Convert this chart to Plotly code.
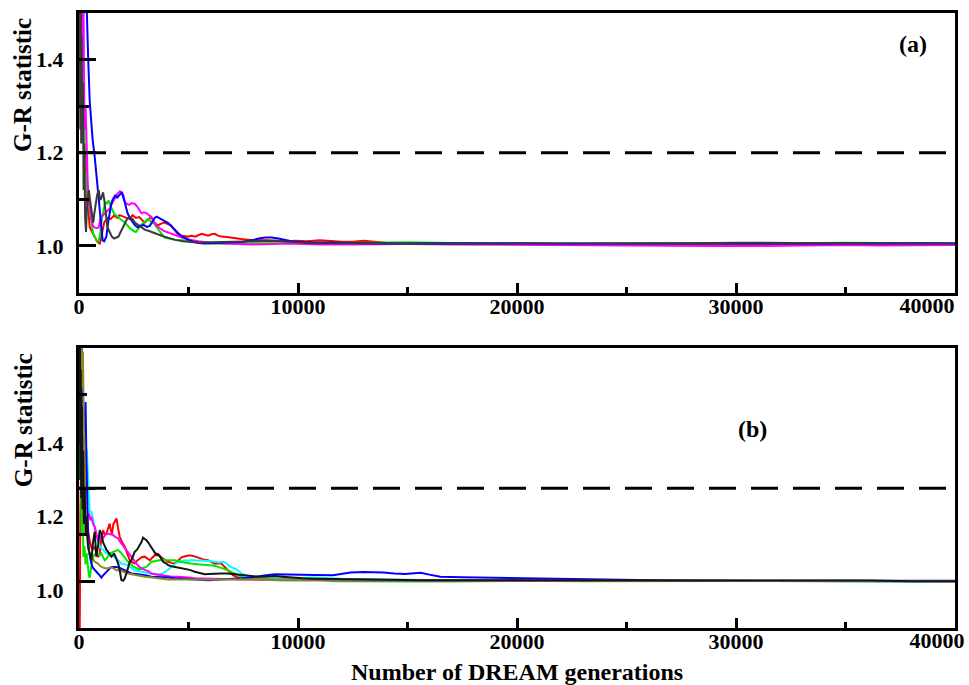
import plotly.graph_objects as go

# ---------------------------------------------------------------
# Gelman-Rubin convergence statistic vs. DREAM generation
# Each series: list of (generation, G-R value) pairs
# ---------------------------------------------------------------

# Panel (a)
a_red = [(0, 1.55), (30, 1.8), (60, 1.45), (100, 1.6), (140, 1.3), (170, 1.25), (210, 1.35), (250, 1.17),
         (300, 1.2), (350, 1.10), (420, 1.08), (490, 1.04), (600, 1.03), (700, 1.02), (820, 1.01), (950, 1.004),
         (1050, 1.03), (1150, 1.05), (1300, 1.06), (1450, 1.058), (1600, 1.065), (1750, 1.06), (1850, 1.066),
         (2000, 1.063), (2150, 1.06), (2300, 1.058), (2450, 1.066), (2600, 1.06), (2750, 1.062), (2900, 1.055),
         (3000, 1.05), (3150, 1.056), (3300, 1.062), (3450, 1.05), (3600, 1.044), (3750, 1.048), (3900, 1.05),
         (4050, 1.047), (4200, 1.044), (4350, 1.035), (4500, 1.026), (4700, 1.022), (4950, 1.02), (5150, 1.022),
         (5300, 1.02), (5450, 1.023), (5600, 1.026), (5750, 1.024), (5900, 1.022), (6050, 1.025), (6200, 1.026),
         (6350, 1.022), (6500, 1.02), (6750, 1.019), (7000, 1.018), (7400, 1.015), (7800, 1.013), (8200, 1.013),
         (8600, 1.012), (9000, 1.011), (9500, 1.01), (9900, 1.011), (10400, 1.01), (11000, 1.012), (11500, 1.01),
         (12000, 1.009), (12500, 1.009), (13000, 1.011), (13500, 1.009), (14000, 1.007), (15000, 1.006),
         (16500, 1.005), (18000, 1.005), (20000, 1.004), (22500, 1.003), (25000, 1.002), (27500, 1.002),
         (30000, 1.003), (32500, 1.003), (35000, 1.003), (37500, 1.004), (40000, 1.003)]

a_green = [(0, 1.7), (30, 1.45), (60, 1.9), (100, 1.35), (140, 1.5), (180, 1.22), (220, 1.3), (260, 1.15),
           (300, 1.12), (350, 1.16), (400, 1.1), (450, 1.09), (520, 1.06), (600, 1.04), (660, 1.025), (720, 1.018),
           (800, 1.012), (900, 1.01), (980, 1.03), (1050, 1.06), (1120, 1.08), (1200, 1.095), (1280, 1.09),
           (1350, 1.098), (1450, 1.085), (1600, 1.07), (1700, 1.065), (1850, 1.058), (1950, 1.055), (2100, 1.05),
           (2250, 1.042), (2350, 1.037), (2500, 1.032), (2600, 1.03), (2700, 1.036), (2800, 1.044), (2950, 1.05),
           (3050, 1.055), (3150, 1.058), (3300, 1.052), (3450, 1.047), (3550, 1.04), (3650, 1.033), (3800, 1.024),
           (3900, 1.018), (4100, 1.016), (4400, 1.013), (4700, 1.012), (5100, 1.01), (5600, 1.008), (6200, 1.005),
           (6800, 1.006), (7400, 1.005), (8200, 1.006), (9000, 1.006), (10000, 1.007), (11000, 1.006),
           (12000, 1.006), (13500, 1.007), (15000, 1.008), (16000, 1.007), (17500, 1.006), (20000, 1.005),
           (23000, 1.004), (26000, 1.005), (30000, 1.005), (33000, 1.006), (35000, 1.007), (37000, 1.006),
           (40000, 1.005)]

a_blue = [(0, 2.1), (60, 1.9), (120, 2.0), (180, 1.75), (240, 1.85), (300, 1.6), (350, 1.5), (420, 1.40),
          (490, 1.31), (560, 1.26), (620, 1.23), (720, 1.19), (800, 1.15), (850, 1.12), (900, 1.09), (950, 1.07),
          (1000, 1.04), (1080, 1.012), (1150, 1.01), (1250, 1.02), (1330, 1.05), (1400, 1.07), (1470, 1.09),
          (1540, 1.10), (1650, 1.108), (1750, 1.104), (1850, 1.11), (1950, 1.115), (2050, 1.1), (2150, 1.08),
          (2220, 1.07), (2350, 1.058), (2450, 1.05), (2550, 1.045), (2680, 1.04), (2800, 1.043), (2950, 1.045),
          (3100, 1.041), (3230, 1.043), (3350, 1.052), (3450, 1.06), (3550, 1.063), (3650, 1.06), (3800, 1.057),
          (3950, 1.052), (4050, 1.05), (4200, 1.043), (4300, 1.038), (4400, 1.032), (4510, 1.027), (4650, 1.022),
          (4800, 1.018), (4950, 1.014), (5150, 1.01), (5400, 1.007), (5650, 1.005), (5900, 1.005), (6300, 1.006),
          (6700, 1.007), (7100, 1.007), (7500, 1.009), (7900, 1.012), (8200, 1.016), (8500, 1.018), (8800, 1.018),
          (9100, 1.016), (9400, 1.013), (9700, 1.01), (10300, 1.008), (11000, 1.007), (12000, 1.007),
          (13000, 1.006), (14000, 1.005), (15000, 1.005), (16000, 1.006), (17000, 1.006), (18000, 1.007),
          (19000, 1.007), (20000, 1.006), (22000, 1.005), (24000, 1.005), (26000, 1.005), (28000, 1.004),
          (30000, 1.004), (32000, 1.005), (34000, 1.005), (36000, 1.006), (38000, 1.006), (40000, 1.006)]

a_magenta = [(0, 1.8), (40, 1.6), (80, 1.9), (120, 1.45), (150, 1.4), (200, 1.55), (250, 1.25), (300, 1.3),
             (350, 1.18), (400, 1.133), (470, 1.09), (550, 1.06), (620, 1.045), (700, 1.04), (800, 1.038),
             (900, 1.04), (1000, 1.062), (1100, 1.066), (1200, 1.07), (1300, 1.074), (1400, 1.08), (1500, 1.09),
             (1630, 1.10), (1750, 1.112), (1860, 1.117), (1950, 1.116), (2020, 1.11), (2100, 1.094), (2200, 1.09),
             (2300, 1.088), (2400, 1.092), (2550, 1.09), (2650, 1.085), (2750, 1.078), (2850, 1.07), (2950, 1.072),
             (3100, 1.07), (3200, 1.066), (3300, 1.062), (3420, 1.052), (3530, 1.044), (3700, 1.038), (3850, 1.033),
             (4050, 1.029), (4220, 1.026), (4450, 1.022), (4700, 1.018), (5000, 1.014), (5450, 1.01), (6000, 1.007),
             (6650, 1.005), (7300, 1.004), (7900, 1.003), (8700, 1.004), (9600, 1.005), (10300, 1.004),
             (11000, 1.003), (12500, 1.003), (14000, 1.004), (15000, 1.004), (17000, 1.003), (20000, 1.002),
             (22500, 1.002), (25000, 1.001), (27000, 1.001), (29000, 1.0), (31000, 1.0), (33000, 1.001),
             (35000, 1.002), (36500, 1.001), (38000, 1.002), (40000, 1.002)]

a_gray = [(0, 1.95), (20, 1.30), (40, 1.7), (60, 1.25), (80, 1.55), (100, 1.22), (120, 1.45), (150, 1.25),
          (180, 1.35), (210, 1.12), (240, 1.22), (280, 1.06), (320, 1.03), (360, 1.08), (400, 1.10), (450, 1.12),
          (500, 1.10), (560, 1.08), (650, 1.05), (700, 1.07), (760, 1.09), (830, 1.11), (900, 1.12), (960, 1.10),
          (1000, 1.10), (1050, 1.11), (1100, 1.115), (1150, 1.10), (1200, 1.08), (1250, 1.06), (1300, 1.04),
          (1400, 1.03), (1500, 1.02), (1600, 1.016), (1700, 1.018), (1800, 1.02), (1900, 1.03), (2000, 1.04),
          (2100, 1.05), (2200, 1.058), (2300, 1.062), (2450, 1.058), (2550, 1.05), (2700, 1.045), (2850, 1.04),
          (3000, 1.035), (3200, 1.032), (3400, 1.028), (3650, 1.024), (3900, 1.02), (4150, 1.016), (4400, 1.013),
          (4750, 1.01), (5100, 1.008), (5500, 1.007), (6000, 1.008), (6700, 1.009), (7400, 1.01), (8200, 1.01),
          (9000, 1.011), (9900, 1.008), (10800, 1.006), (12000, 1.006), (13000, 1.005), (14500, 1.005),
          (16000, 1.004), (18000, 1.005), (20000, 1.005), (22000, 1.005), (24000, 1.005), (26000, 1.006),
          (28000, 1.006), (30000, 1.007), (32000, 1.007), (34000, 1.006), (36000, 1.005), (38000, 1.005),
          (40000, 1.005)]

# Panel (b)
b_red = [(0, 0.80), (30, 0.85), (60, 1.2), (100, 1.45), (150, 1.55), (200, 1.50), (250, 1.40), (300, 1.28),
         (350, 1.22), (420, 1.16), (500, 1.13), (600, 1.11), (717, 1.118), (800, 1.10), (870, 1.09), (945, 1.10),
         (1020, 1.14), (1100, 1.163), (1180, 1.15), (1250, 1.154), (1330, 1.17), (1400, 1.181), (1460, 1.16),
         (1510, 1.154), (1570, 1.18), (1630, 1.186), (1710, 1.195), (1780, 1.17), (1860, 1.145), (1970, 1.13),
         (2090, 1.118), (2200, 1.10), (2320, 1.081), (2440, 1.075), (2545, 1.072), (2650, 1.08), (2770, 1.086),
         (2880, 1.09), (3000, 1.091), (3120, 1.085), (3230, 1.081), (3380, 1.09), (3530, 1.099), (3650, 1.093),
         (3760, 1.089), (3900, 1.082), (4070, 1.077), (4220, 1.074), (4370, 1.072), (4520, 1.08), (4680, 1.089),
         (4850, 1.092), (5060, 1.095), (5200, 1.093), (5360, 1.091), (5520, 1.087), (5670, 1.083), (5890, 1.081),
         (6050, 1.076), (6200, 1.072), (6350, 1.073), (6500, 1.072), (6620, 1.065), (6730, 1.059), (6880, 1.05),
         (7040, 1.04), (7230, 1.035), (7420, 1.031), (7800, 1.03), (8180, 1.029), (8900, 1.03), (9700, 1.031),
         (10770, 1.031), (12000, 1.029), (13000, 1.028), (14000, 1.028), (15000, 1.027), (16500, 1.027),
         (18000, 1.026), (20000, 1.026), (23000, 1.025), (26000, 1.025), (30000, 1.025), (34000, 1.025),
         (37000, 1.024), (40000, 1.024)]

b_cyan = [(0, 1.7), (60, 1.5), (120, 1.6), (200, 1.45), (280, 1.40), (365, 1.376), (420, 1.3), (490, 1.213),
          (565, 1.213), (640, 1.19), (717, 1.172), (800, 1.15), (869, 1.136), (950, 1.12), (1022, 1.113),
          (1100, 1.11), (1250, 1.10), (1400, 1.098), (1478, 1.095), (1600, 1.09), (1707, 1.086), (1830, 1.079),
          (1935, 1.072), (2100, 1.07), (2240, 1.068), (2400, 1.06), (2544, 1.054), (2700, 1.052), (2849, 1.05),
          (3000, 1.048), (3154, 1.045), (3400, 1.043), (3600, 1.041), (3800, 1.045), (4000, 1.052), (4219, 1.063),
          (4371, 1.07), (4524, 1.077), (4676, 1.079), (4828, 1.081), (5000, 1.08), (5133, 1.082), (5300, 1.081),
          (5590, 1.081), (5900, 1.079), (6199, 1.077), (6400, 1.075), (6579, 1.077), (6700, 1.074), (6808, 1.068),
          (6950, 1.062), (7112, 1.059), (7300, 1.052), (7417, 1.045), (7600, 1.04), (7874, 1.036), (8300, 1.034),
          (8939, 1.032), (9700, 1.033), (10766, 1.034), (12000, 1.031), (13500, 1.029), (15000, 1.028),
          (17000, 1.027), (20000, 1.026), (24000, 1.026), (28000, 1.025), (32000, 1.025), (36000, 1.023),
          (38000, 1.022), (40000, 1.024)]

b_green = [(0, 1.6), (40, 1.3), (80, 1.45), (120, 1.15), (160, 1.25), (200, 1.09), (250, 1.12), (300, 1.07),
           (350, 1.10), (413, 1.05), (450, 1.04), (489, 1.033), (540, 1.05), (600, 1.08), (680, 1.095), (760, 1.10),
           (869, 1.098), (960, 1.095), (1022, 1.1), (1100, 1.088), (1174, 1.081), (1250, 1.085), (1326, 1.091),
           (1420, 1.1), (1555, 1.104), (1700, 1.106), (1783, 1.109), (1900, 1.103), (2011, 1.095), (2164, 1.083),
           (2240, 1.077), (2392, 1.07), (2468, 1.064), (2620, 1.06), (2773, 1.056), (2900, 1.06), (3077, 1.063),
           (3200, 1.07), (3306, 1.077), (3534, 1.079), (3800, 1.083), (4000, 1.082), (4371, 1.081), (4600, 1.077),
           (4828, 1.074), (5100, 1.072), (5285, 1.071), (5600, 1.069), (5894, 1.068), (6199, 1.066), (6351, 1.063),
           (6600, 1.059), (6808, 1.054), (7000, 1.048), (7265, 1.041), (7500, 1.035), (7721, 1.032), (8300, 1.029),
           (8939, 1.027), (9700, 1.026), (10766, 1.027), (11700, 1.024), (13000, 1.023), (15000, 1.023),
           (17000, 1.023), (18000, 1.024), (20000, 1.025), (23000, 1.024), (27000, 1.025), (31000, 1.024),
           (35000, 1.025), (40000, 1.024)]

b_magenta = [(0, 1.9), (40, 1.5), (80, 1.75), (120, 1.35), (160, 1.45), (200, 1.3), (250, 1.24), (300, 1.27),
             (350, 1.22), (400, 1.20), (460, 1.209), (520, 1.19), (565, 1.2), (640, 1.18), (717, 1.172), (800, 1.15),
             (869, 1.136), (950, 1.14), (1030, 1.15), (1098, 1.141), (1200, 1.15), (1326, 1.154), (1430, 1.152),
             (1555, 1.15), (1650, 1.145), (1783, 1.141), (1860, 1.133), (1935, 1.127), (2011, 1.12), (2164, 1.109),
             (2280, 1.1), (2392, 1.091), (2500, 1.082), (2620, 1.072), (2700, 1.066), (2849, 1.059), (2950, 1.057),
             (3077, 1.054), (3200, 1.05), (3306, 1.045), (3500, 1.043), (3763, 1.041), (4000, 1.038), (4219, 1.036),
             (4500, 1.036), (4828, 1.036), (5000, 1.034), (5285, 1.032), (5700, 1.031), (6199, 1.03), (6800, 1.03),
             (7417, 1.029), (8200, 1.029), (8939, 1.029), (9800, 1.028), (10800, 1.027), (12000, 1.027),
             (14000, 1.026), (16000, 1.026), (19000, 1.025), (22000, 1.025), (26000, 1.025), (30000, 1.025),
             (35000, 1.025), (40000, 1.024)]

b_blue = [(0, 1.8), (50, 1.6), (100, 1.9), (150, 1.5), (200, 1.4), (250, 1.45), (300, 1.512), (340, 1.35),
          (380, 1.2), (413, 1.15), (460, 1.104), (520, 1.08), (565, 1.072), (640, 1.06), (717, 1.054), (800, 1.048),
          (869, 1.045), (950, 1.04), (1022, 1.034), (1100, 1.04), (1174, 1.045), (1250, 1.05), (1326, 1.054),
          (1400, 1.058), (1478, 1.063), (1631, 1.063), (1783, 1.062), (1935, 1.058), (2088, 1.054), (2240, 1.05),
          (2392, 1.045), (2620, 1.044), (2849, 1.043), (3077, 1.04), (3306, 1.036), (3534, 1.036), (3763, 1.036),
          (4067, 1.034), (4371, 1.032), (4800, 1.03), (5133, 1.029), (5500, 1.028), (5894, 1.027), (6300, 1.028),
          (6655, 1.029), (7036, 1.03), (7417, 1.032), (7800, 1.034), (8178, 1.036), (8560, 1.04), (8939, 1.043),
          (9300, 1.043), (9700, 1.043), (10100, 1.043), (10766, 1.041), (11600, 1.04), (12000, 1.044),
          (12400, 1.048), (13000, 1.049), (13500, 1.049), (13900, 1.048), (14400, 1.045), (14900, 1.044),
          (15300, 1.046), (15600, 1.047), (16000, 1.042), (16500, 1.036), (17500, 1.035), (18500, 1.034),
          (19200, 1.033), (20300, 1.032), (21300, 1.031), (22500, 1.029), (24000, 1.027), (27000, 1.026),
          (30000, 1.025), (34000, 1.025), (37000, 1.025), (40000, 1.025)]

b_olive = [(0, 1.75), (30, 1.9), (60, 1.7), (100, 1.8), (140, 1.55), (180, 1.65), (220, 1.45), (260, 1.30),
           (300, 1.22), (350, 1.16), (413, 1.118), (489, 1.095), (565, 1.091), (640, 1.085), (717, 1.077),
           (800, 1.074), (869, 1.072), (950, 1.066), (1022, 1.063), (1100, 1.061), (1250, 1.059), (1400, 1.06),
           (1478, 1.062), (1600, 1.058), (1707, 1.054), (1859, 1.054), (1935, 1.052), (2100, 1.048), (2240, 1.045),
           (2400, 1.043), (2544, 1.041), (2700, 1.039), (3001, 1.036), (3250, 1.035), (3458, 1.034), (3800, 1.031),
           (4067, 1.029), (4500, 1.029), (4676, 1.03), (5000, 1.03), (5437, 1.031), (5900, 1.031), (6199, 1.031),
           (6800, 1.03), (7112, 1.03), (7600, 1.029), (8178, 1.029), (9700, 1.029), (10766, 1.03), (12000, 1.029),
           (14000, 1.028), (16000, 1.027), (18000, 1.026), (20000, 1.026), (24000, 1.025), (28000, 1.025),
           (32000, 1.024), (36000, 1.024), (40000, 1.024)]

b_black = [(0, 2.0), (20, 1.4), (40, 1.8), (60, 1.3), (80, 1.6), (100, 1.25), (130, 1.5), (160, 1.22), (190, 1.38),
           (220, 1.18), (260, 1.28), (300, 1.15), (340, 1.20), (413, 1.118), (489, 1.10), (565, 1.081), (640, 1.13),
           (717, 1.159), (790, 1.091), (869, 1.12), (945, 1.163), (1022, 1.154), (1100, 1.13), (1174, 1.118),
           (1250, 1.11), (1326, 1.104), (1400, 1.098), (1478, 1.091), (1550, 1.096), (1600, 1.1), (1700, 1.086),
           (1800, 1.07), (1859, 1.054), (1935, 1.027), (2011, 1.025), (2088, 1.032), (2164, 1.045), (2240, 1.063),
           (2320, 1.077), (2392, 1.081), (2468, 1.095), (2544, 1.104), (2650, 1.11), (2773, 1.122), (2849, 1.13),
           (2925, 1.143), (3001, 1.14), (3077, 1.136), (3154, 1.13), (3230, 1.122), (3306, 1.115), (3382, 1.109),
           (3460, 1.102), (3534, 1.095), (3610, 1.098), (3686, 1.093), (3763, 1.085), (3839, 1.077), (3990, 1.072),
           (4067, 1.068), (4219, 1.065), (4371, 1.063), (4600, 1.061), (4828, 1.059), (5056, 1.055), (5285, 1.05),
           (5514, 1.046), (5742, 1.043), (5900, 1.044), (6199, 1.045), (6500, 1.045), (6808, 1.045), (7100, 1.043),
           (7417, 1.041), (7800, 1.038), (8178, 1.036), (8600, 1.037), (8939, 1.038), (9300, 1.036), (9700, 1.034),
           (10200, 1.032), (10766, 1.031), (11500, 1.03), (12500, 1.029), (14000, 1.028), (15500, 1.027),
           (17000, 1.027), (19000, 1.026), (22000, 1.026), (26000, 1.026), (30000, 1.026), (33000, 1.027),
           (36000, 1.026), (38000, 1.024), (40000, 1.024)]

# Convergence thresholds (dashed lines)
threshold_a = 1.2
threshold_b = 1.277

x_range = [0, 40000]
x_major = [0, 10000, 20000, 30000]
x_major_text = ["0", "10000", "20000", "30000"]
x_minor = [5000, 15000, 25000, 35000]
y_label_vals = [1.0, 1.2, 1.4]
y_label_text = ["1.0", "1.2", "1.4"]

panel_a = [(a_red, "#ff0000"), (a_green, "#00e600"), (a_magenta, "#ff00ff"), (a_blue, "#0000ff"),
           (a_gray, "#3a3a3a")]
panel_b = [(b_red, "#ff0000"), (b_cyan, "#00ffff"), (b_green, "#00e600"), (b_magenta, "#ff00ff"),
           (b_blue, "#0000ff"), (b_olive, "#8c8c1e"), (b_black, "#141414")]

SERIF = "Liberation Serif, Times New Roman, serif"
tick_font = dict(family=SERIF, size=22, color="black", weight="bold")

fig = go.Figure()

# Dashed thresholds (drawn on the overlay x axes that carry the end label)
fig.add_trace(go.Scatter(x=x_range, y=[threshold_a, threshold_a], mode="lines",
                         line=dict(color="black", width=3, dash="27px,15px"),
                         xaxis="x3", yaxis="y", hoverinfo="skip"))
fig.add_trace(go.Scatter(x=x_range, y=[threshold_b, threshold_b], mode="lines",
                         line=dict(color="black", width=3, dash="27px,15px"),
                         xaxis="x4", yaxis="y2", hoverinfo="skip"))
# empty trace so the tick-mark axis of panel (b) is rendered
fig.add_trace(go.Scatter(x=[], y=[], mode="lines", xaxis="x2", yaxis="y3", hoverinfo="skip"))

for series, color in panel_a:
    gx, gy = zip(*series)
    fig.add_trace(go.Scatter(x=list(gx), y=list(gy), mode="lines",
                             line=dict(color=color, width=2), xaxis="x", yaxis="y"))
for series, color in panel_b:
    gx, gy = zip(*series)
    fig.add_trace(go.Scatter(x=list(gx), y=list(gy), mode="lines",
                             line=dict(color=color, width=2), xaxis="x2", yaxis="y2"))

frame = dict(showline=True, mirror=True, linewidth=3, linecolor="black",
             showgrid=False, zeroline=False, automargin=False)


def x_axis(domain_anchor):
    return dict(**frame, anchor=domain_anchor, range=x_range, tickmode="array",
                tickvals=x_major, ticktext=x_major_text, ticks="inside", ticklen=10,
                tickwidth=2.5, tickcolor="black", tickfont=tick_font, ticklabelstandoff=-8,
                minor=dict(tickmode="array", tickvals=x_minor, ticks="inside", ticklen=6,
                           tickwidth=2.5, tickcolor="black"))


def x_end_label(over, anchor, shift):
    return dict(overlaying=over, anchor=anchor, range=x_range, tickmode="array",
                tickvals=[40000], ticktext=["40000"], ticks="", showline=False,
                showgrid=False, zeroline=False, automargin=False, tickfont=tick_font,
                ticklabelstandoff=-3, ticklabelshift=shift, ticklabeloverflow="allow")


fig.update_layout(
    width=969, height=685,
    margin=dict(l=79, r=14, t=13, b=57),
    paper_bgcolor="white", plot_bgcolor="white",
    showlegend=False,
    xaxis=x_axis("y"),
    xaxis2=x_axis("y2"),
    xaxis3=x_end_label("x", "y", -28),
    xaxis4=x_end_label("x2", "y2", -18),
    yaxis=dict(**frame, domain=[0.5455, 1.0], anchor="x", range=[0.9, 1.5], tickmode="array",
               tickvals=y_label_vals, ticktext=y_label_text, ticks="inside", ticklen=17,
               tickwidth=3, tickcolor="black", tickfont=tick_font, ticklabelstandoff=8,
               minor=dict(tickmode="array", tickvals=[1.1, 1.3], ticks="inside", ticklen=10,
                          tickwidth=3, tickcolor="black")),
    yaxis2=dict(**frame, domain=[0.0, 0.4548], anchor="x2", range=[0.8966, 1.6585], tickmode="array",
                tickvals=y_label_vals, ticktext=y_label_text, ticks="", tickfont=tick_font,
                ticklabelstandoff=8),
    yaxis3=dict(overlaying="y2", anchor="x2", side="left", range=[0.9, 1.5], tickmode="array",
                tickvals=[1.0, 1.2, 1.5], ticks="inside", ticklen=16, tickwidth=3, tickcolor="black",
                showticklabels=False, showline=False, showgrid=False, zeroline=False, automargin=False,
                minor=dict(tickmode="array", tickvals=[1.1, 1.4], ticks="inside", ticklen=8,
                           tickwidth=3, tickcolor="black")),
)

title_font = dict(family=SERIF, size=25, color="black", weight="bold")
fig.add_annotation(text="G-R statistic", textangle=-90, xref="paper", yref="paper",
                   x=0, xshift=-56, y=0.883, xanchor="center", yanchor="middle",
                   showarrow=False, font=title_font)
fig.add_annotation(text="G-R statistic", textangle=-90, xref="paper", yref="paper",
                   x=0, xshift=-56, y=0.338, xanchor="center", yanchor="middle",
                   showarrow=False, font=title_font)
fig.add_annotation(text="Number of DREAM generations", xref="paper", yref="paper",
                   x=0.5, y=-0.071, xanchor="center", yanchor="middle", showarrow=False,
                   font=dict(family=SERIF, size=24, color="black", weight="bold"))
fig.add_annotation(text="(a)", xref="paper", yref="paper", x=0.952, y=0.9496,
                   xanchor="center", yanchor="middle", showarrow=False,
                   font=dict(family=SERIF, size=24, color="black", weight="bold"))
fig.add_annotation(text="(b)", xref="paper", yref="paper", x=0.769, y=0.3236,
                   xanchor="center", yanchor="middle", showarrow=False,
                   font=dict(family=SERIF, size=24, color="black", weight="bold"))

fig.write_html("out.html")
